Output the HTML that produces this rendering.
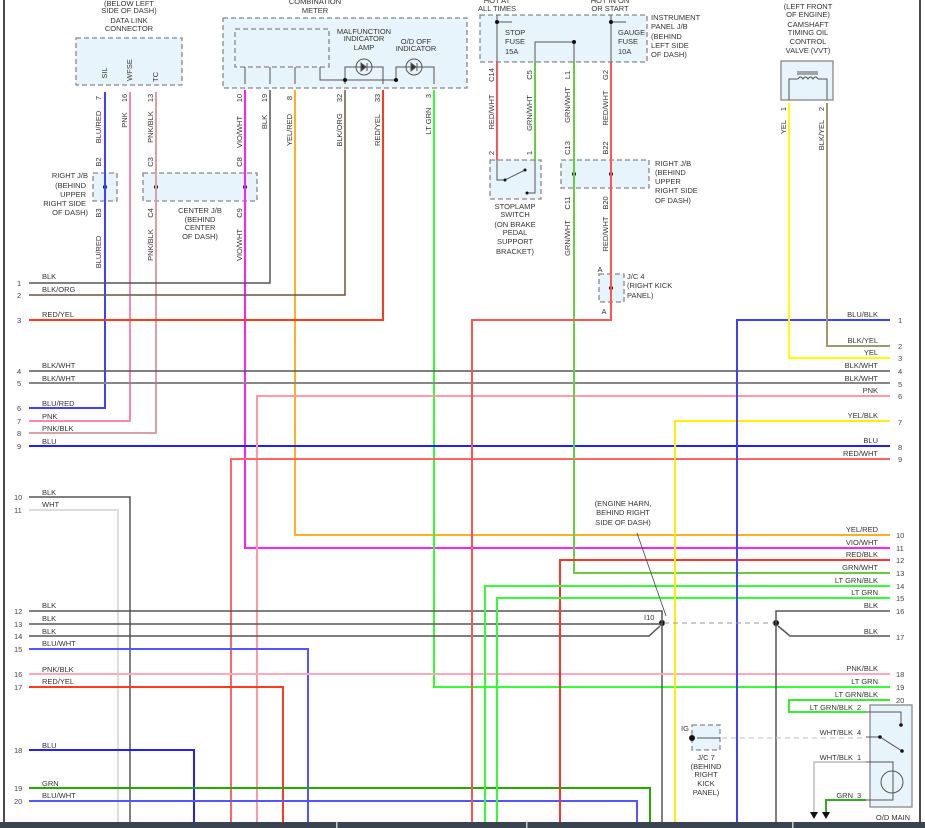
<!DOCTYPE html>
<html><head><meta charset="utf-8"><style>
html,body{margin:0;padding:0;background:#fff;}
svg{display:block;}
text{font-family:"Liberation Sans",sans-serif;font-size:7.5px;fill:#333;}
.n{font-size:7.5px;fill:#444;}
.c{text-anchor:middle;}
.r{text-anchor:end;}
.w{fill:none;}
.box{fill:#e8f4fc;stroke:#888;stroke-width:1.3;stroke-dasharray:5,3;}
.sbox{fill:#e8f4fc;stroke:#888;stroke-width:1.3;}
.int{fill:none;stroke:#555;stroke-width:1;}
</style></head><body>
<svg width="925" height="828" viewBox="0 0 925 828" xmlns="http://www.w3.org/2000/svg">
<rect width="925" height="828" fill="#fff"/>
<line x1="4" y1="0" x2="4" y2="822" stroke="#111" stroke-width="1.5"/>
<line x1="920" y1="0" x2="920" y2="822" stroke="#111" stroke-width="1.5"/>

<!-- Boxes -->
<rect class="box" x="76" y="38" width="106" height="47"/>
<rect class="box" x="223" y="18" width="244" height="70"/>
<rect class="box" x="235" y="29" width="94" height="38"/>
<rect class="box" x="93" y="173" width="24" height="28"/>
<rect class="box" x="143" y="173" width="114" height="28"/>
<rect class="box" x="480" y="15" width="167" height="47"/>
<rect class="box" x="490" y="160" width="51" height="39"/>
<rect class="box" x="561" y="160" width="88" height="28"/>
<rect class="box" x="599" y="274" width="25" height="28"/>
<rect class="sbox" x="781" y="61" width="52" height="39"/>
<rect class="box" x="692" y="725" width="28" height="25"/>
<rect class="sbox" x="870" y="705" width="42" height="102"/>

<!-- Top labels -->
<text class="c" x="129" y="6">(BELOW LEFT</text>
<text class="c" x="129" y="13">SIDE OF DASH)</text>
<text class="c" x="129" y="23">DATA LINK</text>
<text class="c" x="129" y="31">CONNECTOR</text>
<text class="c" x="315" y="4">COMBINATION</text>
<text class="c" x="315" y="13">METER</text>
<text class="c" x="364" y="34">MALFUNCTION</text>
<text class="c" x="364" y="41">INDICATOR</text>
<text class="c" x="364" y="50">LAMP</text>
<text class="c" x="416" y="44">O/D OFF</text>
<text class="c" x="416" y="51">INDICATOR</text>
<text class="c" x="497" y="3">HOT AT</text>
<text class="c" x="497" y="11">ALL TIMES</text>
<text class="c" x="610" y="3">HOT IN ON</text>
<text class="c" x="610" y="11">OR START</text>
<text x="651" y="20">INSTRUMENT</text>
<text x="651" y="29">PANEL J/B</text>
<text x="651" y="39">(BEHIND</text>
<text x="651" y="48">LEFT SIDE</text>
<text x="651" y="57">OF DASH)</text>
<text x="505" y="35">STOP</text><text x="505" y="44">FUSE</text><text x="505" y="54">15A</text>
<text x="618" y="35">GAUGE</text><text x="618" y="44">FUSE</text><text x="618" y="54">10A</text>
<text class="c" x="808" y="9">(LEFT FRONT</text>
<text class="c" x="808" y="17">OF ENGINE)</text>
<text class="c" x="808" y="27">CAMSHAFT</text>
<text class="c" x="808" y="35">TIMING OIL</text>
<text class="c" x="808" y="44">CONTROL</text>
<text class="c" x="808" y="53">VALVE (VVT)</text>
<text class="r" x="88" y="178">RIGHT J/B</text>
<text class="r" x="86" y="188">(BEHIND</text>
<text class="r" x="86" y="197">UPPER</text>
<text class="r" x="86" y="206">RIGHT SIDE</text>
<text class="r" x="88" y="215">OF DASH)</text>
<text class="c" x="200" y="213">CENTER J/B</text>
<text class="c" x="200" y="222">(BEHIND</text>
<text class="c" x="200" y="230">CENTER</text>
<text class="c" x="200" y="239">OF DASH)</text>
<text class="c" x="515" y="209">STOPLAMP</text>
<text class="c" x="515" y="217">SWITCH</text>
<text class="c" x="515" y="227">(ON BRAKE</text>
<text class="c" x="515" y="235">PEDAL</text>
<text class="c" x="515" y="244">SUPPORT</text>
<text class="c" x="515" y="254">BRACKET)</text>
<text x="655" y="166">RIGHT J/B</text>
<text x="655" y="175">(BEHIND</text>
<text x="655" y="184">UPPER</text>
<text x="655" y="193">RIGHT SIDE</text>
<text x="655" y="203">OF DASH)</text>
<text x="627" y="279">J/C 4</text>
<text x="627" y="288">(RIGHT KICK</text>
<text x="627" y="298">PANEL)</text>
<text x="600" y="272" class="c">A</text>
<text x="604" y="314" class="c">A</text>
<text class="c" x="623" y="506">(ENGINE HARN,</text>
<text class="c" x="623" y="515">BEHIND RIGHT</text>
<text class="c" x="623" y="525">SIDE OF DASH)</text>
<text x="644" y="620">I10</text>
<text x="681" y="731">IG</text>
<text class="c" x="706" y="760">J/C 7</text>
<text class="c" x="706" y="769">(BEHIND</text>
<text class="c" x="706" y="777">RIGHT</text>
<text class="c" x="706" y="786">KICK</text>
<text class="c" x="706" y="795">PANEL)</text>
<text class="c" x="893" y="820">O/D MAIN</text>

<!-- Vertical pin labels -->
<g>
<text class="c" transform="translate(107,73) rotate(-90)">SIL</text>
<text class="c" transform="translate(132,70) rotate(-90)">WFSE</text>
<text class="c" transform="translate(158,77) rotate(-90)">TC</text>
<text class="c" transform="translate(101,98) rotate(-90)">7</text>
<text class="c" transform="translate(127,98) rotate(-90)">16</text>
<text class="c" transform="translate(153,98) rotate(-90)">13</text>
<text class="c" transform="translate(101,127) rotate(-90)">BLU/RED</text>
<text class="c" transform="translate(127,120) rotate(-90)">PNK</text>
<text class="c" transform="translate(153,127) rotate(-90)">PNK/BLK</text>
<text class="c" transform="translate(101,162) rotate(-90)">B2</text>
<text class="c" transform="translate(153,162) rotate(-90)">C3</text>
<text class="c" transform="translate(242,162) rotate(-90)">C8</text>
<text class="c" transform="translate(101,213) rotate(-90)">B3</text>
<text class="c" transform="translate(153,213) rotate(-90)">C4</text>
<text class="c" transform="translate(242,213) rotate(-90)">C9</text>
<text class="c" transform="translate(101,252) rotate(-90)">BLU/RED</text>
<text class="c" transform="translate(153,245) rotate(-90)">PNK/BLK</text>
<text class="c" transform="translate(242,245) rotate(-90)">VIO/WHT</text>
<text class="c" transform="translate(242,98) rotate(-90)">10</text>
<text class="c" transform="translate(267,98) rotate(-90)">19</text>
<text class="c" transform="translate(292,98) rotate(-90)">8</text>
<text class="c" transform="translate(342,98) rotate(-90)">32</text>
<text class="c" transform="translate(380,98) rotate(-90)">33</text>
<text class="c" transform="translate(431,96) rotate(-90)">3</text>
<text class="c" transform="translate(242,132) rotate(-90)">VIO/WHT</text>
<text class="c" transform="translate(267,122) rotate(-90)">BLK</text>
<text class="c" transform="translate(292,130) rotate(-90)">YEL/RED</text>
<text class="c" transform="translate(342,130) rotate(-90)">BLK/ORG</text>
<text class="c" transform="translate(380,130) rotate(-90)">RED/YEL</text>
<text class="c" transform="translate(431,121) rotate(-90)">LT GRN</text>
<text class="c" transform="translate(494,75) rotate(-90)">C14</text>
<text class="c" transform="translate(532,75) rotate(-90)">C5</text>
<text class="c" transform="translate(570,75) rotate(-90)">L1</text>
<text class="c" transform="translate(608,75) rotate(-90)">G2</text>
<text class="c" transform="translate(494,112) rotate(-90)">RED/WHT</text>
<text class="c" transform="translate(532,113) rotate(-90)">GRN/WHT</text>
<text class="c" transform="translate(570,105) rotate(-90)">GRN/WHT</text>
<text class="c" transform="translate(608,108) rotate(-90)">RED/WHT</text>
<text class="c" transform="translate(494,153) rotate(-90)">2</text>
<text class="c" transform="translate(532,153) rotate(-90)">1</text>
<text class="c" transform="translate(570,148) rotate(-90)">C13</text>
<text class="c" transform="translate(608,148) rotate(-90)">B22</text>
<text class="c" transform="translate(570,203) rotate(-90)">C11</text>
<text class="c" transform="translate(608,203) rotate(-90)">B20</text>
<text class="c" transform="translate(570,238) rotate(-90)">GRN/WHT</text>
<text class="c" transform="translate(608,234) rotate(-90)">RED/WHT</text>
<text class="c" transform="translate(786,109) rotate(-90)">1</text>
<text class="c" transform="translate(824,109) rotate(-90)">2</text>
<text class="c" transform="translate(786,127) rotate(-90)">YEL</text>
<text class="c" transform="translate(824,135) rotate(-90)">BLK/YEL</text>
</g>

<!-- Internal component lines -->
<g class="int">
<polyline points="245,67 245,84"/><polyline points="270,67 270,84"/><polyline points="295,67 295,84"/>
<polyline points="320,67 320,80 383,80"/>
<polyline points="345,84 345,67 383,67 383,84"/>
<polyline points="383,80 396,80 396,67 434,67 434,84"/>
<circle cx="364" cy="67" r="8"/><circle cx="414" cy="67" r="8"/>
<polygon points="361,63 361,71 366,67" fill="#333"/><line x1="367" y1="63" x2="367" y2="71"/>
<polygon points="411,63 411,71 416,67" fill="#333"/><line x1="417" y1="63" x2="417" y2="71"/>
<polyline points="497,15 497,62"/><polyline points="611,15 611,62"/>
<polyline points="497,22 512,22"/><polyline points="611,22 626,22"/>
<polyline points="535,62 535,42 574,42 574,62"/>
<polyline points="497,160 497,180 505,180 525,170"/>
<polyline points="535,160 535,193 527,193"/>
<polyline points="574,160 574,188"/><polyline points="611,160 611,188"/>
<polyline points="105,173 105,201"/><polyline points="156,173 156,201"/><polyline points="245,173 245,201"/>
<polyline points="611,274 611,302"/>
<polyline points="789,100 789,79 798,79"/><polyline points="827,100 827,79 818,79"/>
<path d="M798,79 q2.5,-4 5,0 q2.5,-4 5,0 q2.5,-4 5,0 q2.5,-4 5,0"/>
<line x1="797" y1="72" x2="818" y2="72"/><line x1="797" y1="74" x2="818" y2="74"/>
<polyline points="697,738 720,738"/>
<polyline points="866,712 901,712 901,725"/>
<polyline points="866,737 880,737 902,751"/>
<polyline points="866,762 893,762 893,800 866,800"/>
<circle cx="892" cy="782" r="11"/>
</g>
<g fill="#111">
<circle cx="497" cy="22" r="2"/><circle cx="611" cy="22" r="2"/><circle cx="574" cy="42" r="2"/>
<circle cx="345" cy="80" r="2"/><circle cx="396" cy="80" r="2"/>
<circle cx="105" cy="187" r="2"/><circle cx="156" cy="187" r="2"/><circle cx="245" cy="187" r="2"/>
<circle cx="574" cy="174" r="2"/><circle cx="611" cy="174" r="2"/><circle cx="611" cy="288" r="2"/>
<circle cx="505" cy="180" r="1.5"/><circle cx="525" cy="170" r="1.5"/><circle cx="527" cy="193" r="1.5"/>
<circle cx="662" cy="623" r="3"/><circle cx="776" cy="623" r="3"/>
<circle cx="692" cy="738" r="3"/>
<circle cx="901" cy="725" r="1.8"/><circle cx="880" cy="737" r="1.8"/><circle cx="902" cy="751" r="1.8"/>
<polygon points="810,812 818,812 814,819"/><polygon points="822,812 830,812 826,819"/>
</g>

<!-- Wires -->
<g class="w" stroke-width="2">
<polyline stroke="#4040ff" points="105,92 105,408 29,408"/>
<polyline stroke="#ff88a8" points="130,92 130,421 29,421"/>
<polyline stroke="#d8a0a8" points="156,92 156,433 29,433"/>
<polyline stroke="#ff22ff" points="245,90 245,548 890,548"/>
<polyline stroke="#555" stroke-width="1.5" points="270,90 270,283 29,283"/>
<polyline stroke="#ffb020" points="295,90 295,535 890,535"/>
<polyline stroke="#6a5540" stroke-width="1.5" points="345,90 345,295 29,295"/>
<polyline stroke="#ff3a20" points="383,90 383,320 29,320"/>
<polyline stroke="#33ff33" points="434,90 434,687 890,687"/>
<line stroke="#555" stroke-width="1.5" x1="29" y1="371" x2="890" y2="371"/>
<line stroke="#888" x1="29" y1="383" x2="890" y2="383"/>
<line stroke="#2020ff" x1="29" y1="446" x2="890" y2="446"/>
<polyline stroke="#ff9aaa" points="257,822 257,396 890,396"/>
<polyline stroke="#ff6666" points="231,822 231,459 890,459"/>
<polyline stroke="#555" stroke-width="1.5" points="29,497 130,497 130,822"/>
<polyline stroke="#dddddd" points="29,510 118,510 118,822"/>
<polyline stroke="#555" stroke-width="1.5" points="29,611 662,611 662,822"/>
<line stroke="#555" stroke-width="1.5" x1="29" y1="624" x2="662" y2="624"/>
<polyline stroke="#555" stroke-width="1.5" points="29,636 649,636 660,626"/>
<polyline stroke="#5555ff" points="29,649 308,649 308,822"/>
<line stroke="#ffaabb" x1="29" y1="674" x2="890" y2="674"/>
<polyline stroke="#ff3a20" points="29,687 283,687 283,822"/>
<polyline stroke="#2020ff" points="29,750 194,750 194,822"/>
<polyline stroke="#22aa00" points="29,788 650,788 650,822"/>
<polyline stroke="#5555ff" points="29,801 637,801 637,822"/>
<polyline stroke="#ff5555" points="497,62 497,160"/>
<polyline stroke="#66cc44" points="535,62 535,160"/>
<polyline stroke="#66cc44" points="574,62 574,573 890,573"/>
<polyline stroke="#ff5555" points="611,62 611,320 472,320 472,822"/>
<polyline stroke="#ff3333" points="560,822 560,560 890,560"/>
<polyline stroke="#33ff33" points="485,822 485,586 890,586"/>
<polyline stroke="#33ff33" points="497,822 497,598 890,598"/>
<polyline stroke="#ffee00" points="675,822 675,421 890,421"/>
<polyline stroke="#4040ff" points="737,822 737,320 890,320"/>
<polyline stroke="#ffff00" points="789,103 789,358 890,358"/>
<polyline stroke="#9a9a70" points="827,103 827,346 890,346"/>
<polyline stroke="#555" stroke-width="1.5" points="890,611 776,611 776,822"/>
<polyline stroke="#555" stroke-width="1.5" points="890,636 790,636 778,626"/>
<polyline stroke="#33ee33" points="890,700 789,700 789,712 866,712"/>
<polyline stroke="#bbb" stroke-width="1.5" points="866,762 814,762 814,812"/>
<polyline stroke="#33aa22" points="866,800 826,800 826,812"/>
<line stroke="#999" stroke-width="1" stroke-dasharray="5,4" x1="664" y1="623" x2="774" y2="623"/>
<line stroke="#ccc" stroke-width="1.2" stroke-dasharray="5,4" x1="722" y1="738" x2="866" y2="738"/>
<line stroke="#444" stroke-width="0.8" x1="637" y1="533" x2="666" y2="616"/>
</g>

<!-- Left row labels -->
<g>
<text class="n" x="17" y="286">1</text><text x="42" y="279">BLK</text>
<text class="n" x="17" y="298">2</text><text x="42" y="292">BLK/ORG</text>
<text class="n" x="17" y="323">3</text><text x="42" y="317">RED/YEL</text>
<text class="n" x="17" y="374">4</text><text x="42" y="368">BLK/WHT</text>
<text class="n" x="17" y="386">5</text><text x="42" y="381">BLK/WHT</text>
<text class="n" x="17" y="411">6</text><text x="42" y="406">BLU/RED</text>
<text class="n" x="17" y="424">7</text><text x="42" y="419">PNK</text>
<text class="n" x="17" y="436">8</text><text x="42" y="431">PNK/BLK</text>
<text class="n" x="17" y="449">9</text><text x="42" y="444">BLU</text>
<text class="n" x="14" y="500">10</text><text x="42" y="495">BLK</text>
<text class="n" x="14" y="513">11</text><text x="42" y="507">WHT</text>
<text class="n" x="14" y="614">12</text><text x="42" y="608">BLK</text>
<text class="n" x="14" y="627">13</text><text x="42" y="621">BLK</text>
<text class="n" x="14" y="639">14</text><text x="42" y="634">BLK</text>
<text class="n" x="14" y="652">15</text><text x="42" y="646">BLU/WHT</text>
<text class="n" x="14" y="677">16</text><text x="42" y="672">PNK/BLK</text>
<text class="n" x="14" y="690">17</text><text x="42" y="684">RED/YEL</text>
<text class="n" x="14" y="753">18</text><text x="42" y="748">BLU</text>
<text class="n" x="14" y="791">19</text><text x="42" y="786">GRN</text>
<text class="n" x="14" y="804">20</text><text x="42" y="798">BLU/WHT</text>
</g>
<!-- Right row labels -->
<g>
<text class="r" x="878" y="317">BLU/BLK</text><text class="n" x="898" y="323">1</text>
<text class="r" x="878" y="343">BLK/YEL</text><text class="n" x="898" y="349">2</text>
<text class="r" x="878" y="355">YEL</text><text class="n" x="898" y="361">3</text>
<text class="r" x="878" y="368">BLK/WHT</text><text class="n" x="898" y="374">4</text>
<text class="r" x="878" y="381">BLK/WHT</text><text class="n" x="898" y="387">5</text>
<text class="r" x="878" y="393">PNK</text><text class="n" x="898" y="399">6</text>
<text class="r" x="878" y="418">YEL/BLK</text><text class="n" x="898" y="425">7</text>
<text class="r" x="878" y="443">BLU</text><text class="n" x="898" y="450">8</text>
<text class="r" x="878" y="456">RED/WHT</text><text class="n" x="898" y="462">9</text>
<text class="r" x="878" y="532">YEL/RED</text><text class="n" x="896" y="538">10</text>
<text class="r" x="878" y="545">VIO/WHT</text><text class="n" x="896" y="551">11</text>
<text class="r" x="878" y="557">RED/BLK</text><text class="n" x="896" y="563">12</text>
<text class="r" x="878" y="570">GRN/WHT</text><text class="n" x="896" y="576">13</text>
<text class="r" x="878" y="583">LT GRN/BLK</text><text class="n" x="896" y="589">14</text>
<text class="r" x="878" y="595">LT GRN</text><text class="n" x="896" y="601">15</text>
<text class="r" x="878" y="608">BLK</text><text class="n" x="896" y="614">16</text>
<text class="r" x="878" y="634">BLK</text><text class="n" x="896" y="640">17</text>
<text class="r" x="878" y="671">PNK/BLK</text><text class="n" x="896" y="677">18</text>
<text class="r" x="878" y="684">LT GRN</text><text class="n" x="896" y="690">19</text>
<text class="r" x="878" y="697">LT GRN/BLK</text><text class="n" x="896" y="703">20</text>
<text class="r" x="853" y="710">LT GRN/BLK</text><text x="857" y="710">2</text>
<text class="r" x="853" y="735">WHT/BLK</text><text x="857" y="735">4</text>
<text class="r" x="853" y="760">WHT/BLK</text><text x="857" y="760">1</text>
<text class="r" x="853" y="798">GRN</text><text x="857" y="798">3</text>
</g>

<!-- Bottom bar -->
<rect x="0" y="822" width="925" height="6" fill="#3a4350"/>
<rect x="336" y="822" width="1.5" height="6" fill="#ccc"/>
<rect x="526" y="822" width="1.5" height="6" fill="#ccc"/>
<rect x="792" y="822" width="1.5" height="6" fill="#ccc"/>
</svg>
</body></html>
